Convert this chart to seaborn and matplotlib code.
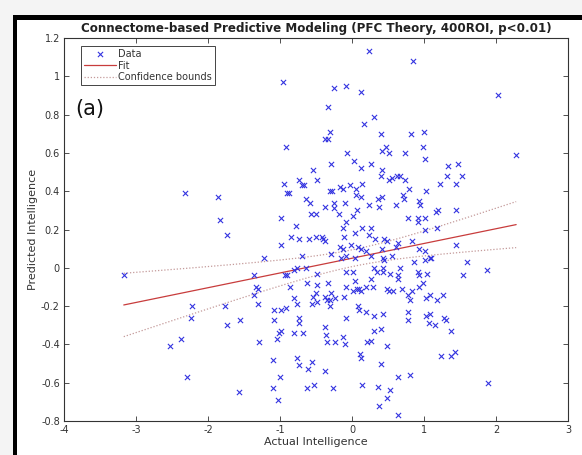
import numpy as np
import pandas as pd
import matplotlib
matplotlib.use("Agg")
import matplotlib.pyplot as plt
from matplotlib.patches import Rectangle
import seaborn as sns

sns.set_theme(style="white")
plt.rcParams['font.family'] = ['DejaVu Sans']

title = "Connectome-based Predictive Modeling (PFC Theory, 400ROI, p<0.01)"
xlabel = "Actual Intelligence"
ylabel = "Predicted Intelligence"
panel_label = "(a)"
legend_labels = ["Data", "Fit", "Confidence bounds"]
xticks = [-4, -3, -2, -1, 0, 1, 2, 3]
yticks = [-0.8, -0.6, -0.4, -0.2, 0, 0.2, 0.4, 0.6, 0.8, 1, 1.2]
ytick_labels = ["-0.8", "-0.6", "-0.4", "-0.2", "0", "0.2", "0.4", "0.6", "0.8", "1", "1.2"]

actual = [
    0.24, -0.96, -0.25, -0.09, 0.13, -0.34, 0.30, 0.17, -0.30, -0.37, -0.34, 0.40, 0.82, -0.91, 0.47, 0.85,
    2.03, 1.00, 0.99, 2.28, -2.32, -1.86, -1.83, -3.17, -2.22, -1.77, -2.24, -2.53, -2.37, -2.29, 1.89, 1.88,
    -0.07, 0.42, 0.51, 0.73, 1.02, 0.03, -0.29, 0.27, 0.13, 0.42, -0.54, 1.33, 1.47, 1.32, 1.53, 0.40,
    0.51, 0.56, 0.63, 0.66, 0.73, -0.73, -0.49, -0.94, -0.69, -0.67, -0.17, -0.03, 0.14, 0.06, -0.13, 0.79,
    1.22, 1.45, -0.90, -0.87, -0.31, -0.28, 1.03, -0.64, 0.05, 0.12, 0.71, 0.72, 0.36, 0.42, -0.25, -0.10,
    0.24, 0.61, 0.93, 0.95, -0.58, -0.38, 0.38, -0.25, 0.07, -0.18, 0.01, -0.57, -0.50, 1.16, 1.19, 1.44,
    -0.98, -0.09, 0.78, 0.92, 1.02, 0.92, -0.78, -0.13, 0.14, 0.27, 1.01, 1.18, 0.04, 0.23, -1.73, -0.85,
    -0.73, -0.60, -0.50, -0.41, -0.40, -0.37, -0.11, 0.32, 0.44, 0.48, 0.64, 0.83, -0.98, -0.17, -0.12, -0.02,
    0.08, 0.12, 0.42, 0.61, 0.93, 1.01, 1.44, -1.22, -0.69, -0.29, -0.15, -0.09, 0.04, 0.19, 0.26, 0.43,
    0.44, 0.56, 1.08, 1.01, 1.10, 0.86, 1.60, -0.80, -0.77, -0.64, -0.48, -0.08, 0.01, 0.31, 0.43, 0.35,
    0.43, 0.53, 0.66, 0.64, 0.91, 0.93, 1.04, 1.54, -1.36, -0.93, -0.90, 0.04, 0.27, 0.64, 0.98, -0.62,
    -0.49, -0.34, -0.86, -0.09, 0.01, 0.07, 0.10, 0.13, 0.19, 0.29, 0.49, 0.52, 0.57, 0.69, 0.78, 0.83,
    0.93, -1.33, -1.30, -1.36, -0.50, -0.29, -0.54, -0.37, -0.35, -0.31, -0.23, -0.11, -0.80, -0.56, -0.49, -0.30,
    -0.76, 0.08, 0.10, 0.19, 0.31, 0.43, 0.80, 1.03, 1.09, 1.18, 1.26, -1.30, -1.09, -0.99, -0.92, -1.09,
    -0.73, -0.74, -0.09, 0.78, 0.78, 1.03, 1.08, 1.07, 1.15, 1.28, 1.30, -1.55, -1.73, -1.01, -0.98, -1.04,
    -0.80, -0.68, -0.37, -0.36, -0.35, -0.23, -0.13, -0.10, 0.21, 0.26, 0.31, 0.40, 0.48, 1.38, -1.29, -1.10,
    -0.76, -0.73, -0.61, -0.55, -0.38, 0.11, 0.12, 0.40, 1.23, 1.37, 1.43, -1.00, 0.64, 0.80, -1.57, -1.10,
    -0.62, -0.53, -0.27, 0.14, 0.36, 0.53, -1.03, 0.48, 0.37, 0.64,
]
predicted = [
    1.13, 0.97, 0.94, 0.95, 0.92, 0.84, 0.79, 0.75, 0.71, 0.67, 0.67, 0.70, 0.70, 0.63, 0.63, 1.08,
    0.90, 0.71, 0.63, 0.59, 0.39, 0.37, 0.25, -0.04, -0.20, -0.20, -0.26, -0.41, -0.37, -0.57, -0.60, -0.01,
    0.60, 0.61, 0.60, 0.60, 0.57, 0.56, 0.54, 0.54, 0.52, 0.51, 0.51, 0.53, 0.54, 0.48, 0.48, 0.48,
    0.46, 0.47, 0.48, 0.48, 0.46, 0.46, 0.46, 0.44, 0.43, 0.43, 0.42, 0.43, 0.44, 0.41, 0.41, 0.41,
    0.44, 0.44, 0.39, 0.39, 0.40, 0.40, 0.40, 0.36, 0.38, 0.37, 0.38, 0.36, 0.36, 0.37, 0.34, 0.34,
    0.33, 0.33, 0.35, 0.33, 0.34, 0.32, 0.32, 0.31, 0.30, 0.28, 0.27, 0.28, 0.28, 0.29, 0.30, 0.30,
    0.26, 0.24, 0.26, 0.26, 0.26, 0.24, 0.22, 0.21, 0.21, 0.21, 0.20, 0.21, 0.18, 0.17, 0.17, 0.16,
    0.15, 0.15, 0.16, 0.16, 0.15, 0.14, 0.16, 0.15, 0.15, 0.14, 0.13, 0.14, 0.12, 0.11, 0.10, 0.12,
    0.11, 0.10, 0.10, 0.11, 0.10, 0.09, 0.12, 0.05, 0.06, 0.07, 0.05, 0.06, 0.05, 0.09, 0.06, 0.05,
    0.04, 0.06, 0.05, 0.04, 0.05, 0.03, 0.03, -0.01, 0.00, 0.00, -0.03, -0.02, -0.02, 0.00, 0.00, -0.02,
    -0.02, -0.03, 0.00, -0.04, -0.02, -0.04, -0.03, -0.04, -0.04, -0.04, -0.04, -0.07, -0.06, -0.06, -0.08, -0.08,
    -0.09, -0.08, -0.10, -0.10, -0.12, -0.11, -0.11, -0.12, -0.10, -0.10, -0.11, -0.12, -0.12, -0.11, -0.14, -0.12,
    -0.10, -0.10, -0.11, -0.14, -0.13, -0.13, -0.15, -0.15, -0.17, -0.17, -0.16, -0.15, -0.16, -0.19, -0.18, -0.20,
    -0.19, -0.20, -0.22, -0.23, -0.25, -0.24, -0.17, -0.16, -0.14, -0.17, -0.14, -0.19, -0.22, -0.22, -0.21, -0.27,
    -0.26, -0.29, -0.26, -0.23, -0.27, -0.25, -0.24, -0.29, -0.30, -0.26, -0.27, -0.27, -0.30, -0.34, -0.33, -0.37,
    -0.34, -0.34, -0.31, -0.35, -0.39, -0.39, -0.36, -0.40, -0.39, -0.38, -0.33, -0.32, -0.41, -0.33, -0.39, -0.48,
    -0.47, -0.51, -0.53, -0.49, -0.54, -0.45, -0.47, -0.50, -0.46, -0.46, -0.44, -0.57, -0.57, -0.56, -0.65, -0.63,
    -0.63, -0.61, -0.63, -0.61, -0.62, -0.64, -0.69, -0.68, -0.72, -0.77,
]

df = pd.DataFrame({"actual": actual, "predicted": predicted})

# Linear fit with 95% confidence bounds for the fitted line
x = np.asarray(actual)
y = np.asarray(predicted)
n = len(x)
slope, intercept = np.polyfit(x, y, 1)
resid = y - (slope * x + intercept)
s = np.sqrt(np.sum(resid ** 2) / (n - 2))
sxx = np.sum((x - x.mean()) ** 2)
xs = np.linspace(x.min(), x.max(), 200)
yfit = slope * xs + intercept
hw = 1.97 * s * np.sqrt(1.0 / n + (xs - x.mean()) ** 2 / sxx)
fit_df = pd.DataFrame({"x": xs, "fit": yfit, "lo": yfit - hw, "hi": yfit + hw})

W, H = 582, 455
fig = plt.figure(figsize=(W / 100, H / 100), dpi=100)
fig.patch.set_facecolor("white")
fig.patches.append(Rectangle((0, 0), 1, 1, transform=fig.transFigure, facecolor="#f4f4f4", edgecolor="none", zorder=-3))
fig.patches.append(Rectangle((13 / W, 0), 1, 1 - 15 / H, transform=fig.transFigure, facecolor="black", edgecolor="none", zorder=-2))
fig.patches.append(Rectangle((17 / W, 0), 1, 1 - 20 / H, transform=fig.transFigure, facecolor="white", edgecolor="none", zorder=-1))

ax = fig.add_axes([64 / W, 1 - 421 / H, (568 - 64) / W, (421 - 38) / H])
ax.set_facecolor("white")

sns.scatterplot(data=df, x="actual", y="predicted", ax=ax, marker="x", color="#3434e0",
                s=14, linewidth=0.8, label=legend_labels[0], zorder=3)
sns.lineplot(data=fit_df, x="x", y="fit", ax=ax, color="#c83c3c", linewidth=0.9,
             label=legend_labels[1], zorder=2)
sns.lineplot(data=fit_df, x="x", y="hi", ax=ax, color="#c49a9a", linewidth=0.9,
             linestyle=(0, (1, 1.5)), label=legend_labels[2], zorder=2)
sns.lineplot(data=fit_df, x="x", y="lo", ax=ax, color="#c49a9a", linewidth=0.9,
             linestyle=(0, (1, 1.5)), label="_nolegend_", zorder=2)

ax.set_xlim(-4, 3)
ax.set_ylim(-0.8, 1.2)
ax.set_xticks(xticks)
ax.set_xticklabels([str(t) for t in xticks])
ax.set_yticks(yticks)
ax.set_yticklabels(ytick_labels)
ax.tick_params(axis="both", direction="in", length=3.5, width=0.6, colors="#333333",
               labelsize=7, top=True, right=True, bottom=True, left=True, pad=3)
for sp in ax.spines.values():
    sp.set_color("#333333")
    sp.set_linewidth(0.8)
    sp.set_visible(True)

ax.set_xlabel(xlabel, fontsize=8, color="#333333", labelpad=1)
ax.set_ylabel(ylabel, fontsize=8, color="#333333", labelpad=2)
ax.set_title(title, fontsize=8.6, fontweight="bold", color="#222222", pad=4)

ax.text(-3.84, 0.83, panel_label, fontsize=15, color="#111111", ha="left", va="center")

leg = ax.legend(loc="upper left", bbox_to_anchor=(0.03, 0.985), fontsize=7, frameon=True,
                fancybox=False, edgecolor="#444444", framealpha=1, borderpad=0.3,
                labelspacing=0.2, handlelength=3.3, handletextpad=0.25, borderaxespad=0.2)
leg.get_frame().set_linewidth(0.7)
for t in leg.get_texts():
    t.set_color("#333333")

fig.savefig("out.png", dpi=100, facecolor=fig.get_facecolor())
